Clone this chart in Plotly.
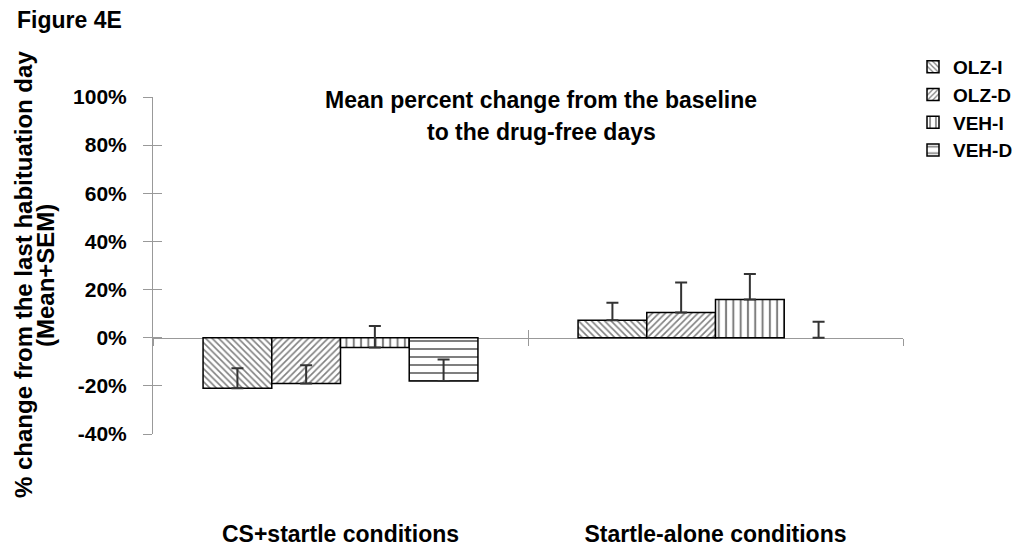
import plotly.graph_objects as go

# ---- data ----
categories = ["CS+startle conditions", "Startle-alone conditions"]
series_names = ["OLZ-I", "OLZ-D", "VEH-I", "VEH-D"]
olz_i = [-0.210, 0.073]
olz_i_sem = [0.083, 0.072]
olz_d = [-0.190, 0.105]
olz_d_sem = [0.076, 0.124]
veh_i = [-0.041, 0.159]
veh_i_sem = [0.090, 0.106]
veh_d = [-0.180, 0.000]
veh_d_sem = [0.089, 0.066]
y_ticks = [-0.4, -0.2, 0.0, 0.2, 0.4, 0.6, 0.8, 1.0]
y_tick_labels = [f"{round(v * 100)}%" for v in y_ticks]

values = [olz_i, olz_d, veh_i, veh_d]
sems = [olz_i_sem, olz_d_sem, veh_i_sem, veh_d_sem]
patterns = [("\\", 4.6, 0.34), ("/", 4.6, 0.34), ("|", 7.3, 0.28), ("-", 8, 0.25)]

FONT = "Arial, Liberation Sans, sans-serif"
OFF = 8  # page body margin
W, H = 1023 - OFF, 548 - OFF
L = 153 - OFF
T = 97 - OFF
R = W - (903 - OFF)
B = H - (434 - OFF)
pw, ph = W - L - R, H - T - B
AX = "#999999"


def px_x(p):  # screen pixel -> paper x
    return (p - OFF - L) / pw


def px_y(p):  # screen pixel -> paper y
    return (H - B - (p - OFF)) / ph


fig = go.Figure()
for name, vals, err, (shape, size, sol) in zip(series_names, values, sems, patterns):
    fig.add_trace(go.Bar(
        name=name, x=categories, y=vals,
        marker=dict(color="white",
                    line=dict(color="black", width=[1.5 if v != 0 else 0 for v in vals]),
                    pattern=dict(shape=shape, size=size, solidity=sol,
                                 fgcolor="black", bgcolor="white", fillmode="overlay")),
        error_y=dict(type="data", symmetric=False, array=err,
                     arrayminus=[0] * len(err), color="#333333", thickness=2, width=6),
    ))

# invisible helper traces so the overlay axes (zero line ticks / crossing y ticks) get drawn
fig.add_trace(go.Scatter(x=categories, y=[None] * len(categories), xaxis="x2", yaxis="y2",
                         mode="lines", showlegend=False, hoverinfo="skip"))
fig.add_trace(go.Scatter(x=categories, y=[None] * len(categories), xaxis="x3", yaxis="y",
                         mode="lines", showlegend=False, hoverinfo="skip"))

zero_pos = (0 - y_ticks[0]) / (y_ticks[-1] - y_ticks[0])

fig.update_layout(
    template="none",
    width=W, height=H,
    margin=dict(l=L, r=R, t=T, b=B, autoexpand=False),
    paper_bgcolor="white", plot_bgcolor="white",
    barmode="group", bargap=0.267, bargroupgap=0,
    font=dict(family=FONT, color="black"),
    showlegend=True,
    legend=dict(x=px_x(913), y=px_y(48), xanchor="left", yanchor="top",
                font=dict(family=FONT, size=19, weight="bold", color="black"),
                bgcolor="rgba(0,0,0,0)", tracegroupgap=0),
    xaxis=dict(type="category", range=[-0.5, 1.5], showline=False, showgrid=False,
               zeroline=False, ticks="", ticklabelstandoff=84, automargin=False,
               tickfont=dict(family=FONT, size=23, weight="bold", color="black")),
    xaxis2=dict(type="category", overlaying="x", anchor="free", position=zero_pos,
                range=[-0.5, 1.5], tickson="boundaries", showticklabels=False,
                showline=True, linecolor=AX, linewidth=1, layer="below traces",
                ticks="outside", ticklen=7, tickcolor=AX,
                showgrid=False, zeroline=False, automargin=False),
    xaxis3=dict(type="category", overlaying="x", anchor="free", position=zero_pos,
                range=[-0.5, 1.5], tickson="boundaries", showticklabels=False,
                showline=False, ticks="inside", ticklen=8, tickcolor=AX,
                layer="below traces", showgrid=False, zeroline=False, automargin=False),
    yaxis=dict(range=[y_ticks[0], y_ticks[-1]], tickvals=y_ticks, ticktext=y_tick_labels,
               showline=True, linecolor=AX, linewidth=1, showgrid=False,
               zeroline=False, ticks="outside", ticklen=9, tickcolor=AX,
               ticklabelstandoff=12, automargin=False,
               tickfont=dict(family=FONT, size=21, weight="bold", color="black")),
    yaxis2=dict(overlaying="y", anchor="x", side="left", range=[y_ticks[0], y_ticks[-1]],
                tickvals=y_ticks, showticklabels=False, showline=False, showgrid=False,
                zeroline=False, ticks="inside", ticklen=9, tickcolor=AX, automargin=False),
)

bold = dict(family=FONT, weight="bold", color="black")
fig.add_annotation(text="Figure 4E", xref="paper", yref="paper", x=px_x(15), y=px_y(20),
                   xanchor="left", yanchor="middle", showarrow=False, font=dict(size=23, **bold))
fig.add_annotation(text="Mean percent change from the baseline", xref="paper", yref="paper",
                   x=px_x(541), y=px_y(100), xanchor="center", yanchor="middle",
                   showarrow=False, font=dict(size=23, **bold))
fig.add_annotation(text="to the drug-free days", xref="paper", yref="paper",
                   x=px_x(541), y=px_y(132), xanchor="center", yanchor="middle",
                   showarrow=False, font=dict(size=23, **bold))
fig.add_annotation(text="% change from the last habituation day", xref="paper", yref="paper",
                   x=px_x(23), y=px_y(275), xanchor="center", yanchor="middle",
                   textangle=-90, showarrow=False, font=dict(size=24, **bold))
fig.add_annotation(text="(Mean+SEM)", xref="paper", yref="paper",
                   x=px_x(45), y=px_y(276), xanchor="center", yanchor="middle",
                   textangle=-90, showarrow=False, font=dict(size=24, **bold))

fig.write_html("out.html")
